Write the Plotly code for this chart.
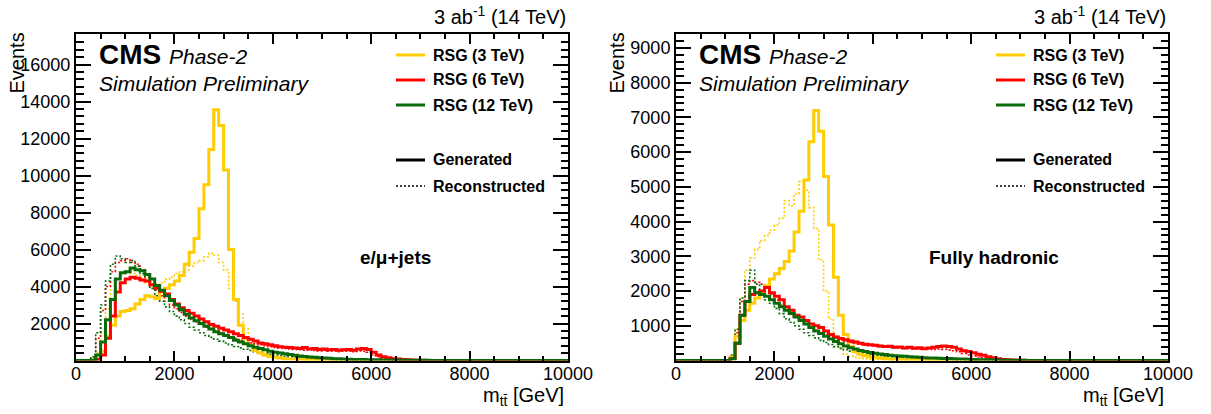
import plotly.graph_objects as go

# ---------------- data (100 GeV bins from 0 to 10000 GeV) ----------------
BIN_WIDTH = 100.0
N_BINS = 100
x_tick_vals = [0, 2000, 4000, 6000, 8000, 10000]
y_tick_vals_lep = [2000, 4000, 6000, 8000, 10000, 12000, 14000, 16000]
y_tick_vals_had = [1000, 2000, 3000, 4000, 5000, 6000, 7000, 8000, 9000]
series_names = ["RSG (3 TeV)", "RSG (6 TeV)", "RSG (12 TeV)"]

# e/mu+jets panel, first listed bin = 300 GeV
lep_start = 3
yellow_gen_lep = [0, 100, 500, 1300, 1900, 2400, 2650, 2700, 2800, 3050, 3300, 3500, 3450, 3350,
                  3700, 3900, 4100, 4300, 4600, 5200, 5850, 6600, 8200, 9500, 11400, 13550, 12700,
                  10300, 6000, 3300, 1900, 1200, 800, 550, 400, 300, 220, 170, 130, 100, 80, 65, 50,
                  40, 30, 25, 20, 15, 10, 10, 5, 5]
yellow_reco_lep = [50, 400, 1500, 2800, 3800, 4400, 4700, 4800, 4700, 4600, 4400, 4200, 4000, 4100,
                   4200, 4400, 4500, 4700, 4800, 4900, 5100, 5300, 5400, 5600, 5800, 5700, 5300,
                   4900, 3900, 3200, 2500, 1700, 1100, 700, 500, 370, 280, 210, 160, 120, 95, 75,
                   60, 45, 35, 25, 20, 15, 10, 8, 5]
red_gen_lep = [0, 50, 300, 1200, 2400, 3700, 4200, 4400, 4500, 4450, 4350, 4300, 4100, 3900, 3750,
               3600, 3300, 3050, 2850, 2700, 2550, 2400, 2250, 2100, 1950, 1850, 1750, 1650, 1550,
               1450, 1350, 1250, 1150, 1050, 950, 900, 850, 800, 750, 720, 700, 680, 650, 700, 620,
               650, 600, 620, 580, 600, 560, 580, 600, 560, 620, 650, 600, 450, 300, 200, 150, 100,
               80, 60, 40, 30, 20, 10]
red_reco_lep = [150, 1200, 2700, 4000, 4800, 5300, 5400, 5500, 5300, 5200, 4900, 4500, 4100, 3800,
                3500, 3200, 3000, 2800, 2600, 2400, 2250, 2100, 1950, 1800, 1700, 1600, 1500, 1400,
                1300, 1200, 1100, 1000, 950, 900, 850, 800, 750, 700, 680, 650, 620, 600, 580, 560,
                600, 550, 520, 560, 500, 520, 480, 500, 520, 480, 520, 500, 450, 300, 200, 130, 90,
                60, 40, 30, 20, 15, 10, 5]
green_gen_lep = [20, 300, 1000, 2200, 3300, 4400, 4750, 4800, 5000, 4900, 4850, 4650, 4400, 4050,
                 3800, 3500, 3250, 3000, 2750, 2500, 2300, 2150, 2000, 1850, 1700, 1550, 1450, 1350,
                 1250, 1100, 1000, 900, 800, 720, 650, 580, 500, 450, 400, 360, 320, 280, 250, 220,
                 190, 170, 150, 130, 115, 100, 90, 80, 70, 60, 55, 50, 45, 40, 35, 30, 28, 25, 22,
                 20, 18, 15, 12, 10, 8, 6, 5, 5, 4, 3, 3, 2, 2, 2]
green_reco_lep = [200, 1500, 3000, 4300, 5200, 5650, 5500, 5300, 5400, 5100, 4700, 4300, 3900, 3500,
                  3200, 2900, 2650, 2400, 2200, 2000, 1800, 1650, 1500, 1350, 1250, 1150, 1050, 950,
                  850, 760, 680, 610, 540, 480, 420, 370, 330, 290, 260, 230, 200, 180, 160, 140,
                  120, 105, 90, 80, 70, 60, 50, 45, 40, 35, 30, 25, 20, 15]

# fully hadronic panel, first listed bin = 1000 GeV
had_start = 10
yellow_gen_had = [0, 100, 700, 1150, 1450, 1650, 1800, 1950, 2150, 2350, 2500, 2650, 2850, 3150,
                  3700, 4300, 5200, 6300, 7200, 6600, 5300, 3900, 2400, 1300, 750, 400, 250, 180,
                  140, 110, 90, 70, 55, 45, 35, 30, 25, 20, 15, 12, 10, 8, 5]
yellow_reco_had = [0, 100, 900, 1800, 2600, 2950, 3200, 3450, 3600, 3750, 3900, 4100, 4600, 4450,
                   4800, 5150, 4900, 4400, 3800, 2900, 2000, 1200, 700, 350, 180, 120, 90, 70, 50,
                   40, 30, 25, 20, 15, 10, 8, 5]
red_gen_had = [0, 50, 500, 1300, 1700, 1900, 1950, 2000, 2100, 1950, 1850, 1750, 1550, 1450, 1300,
               1250, 1150, 1050, 1000, 950, 850, 750, 680, 630, 600, 560, 530, 500, 470, 450, 440,
               420, 400, 410, 380, 390, 360, 380, 350, 370, 340, 360, 380, 400, 420, 400, 380, 330,
               280, 260, 220, 180, 150, 110, 80, 50, 30, 20, 15, 10, 5]
red_reco_had = [0, 150, 800, 1700, 2200, 2300, 2250, 2200, 2100, 1900, 1750, 1600, 1450, 1350,
                1250, 1150, 1050, 950, 880, 800, 750, 700, 650, 600, 550, 520, 490, 470, 450, 430,
                420, 400, 390, 380, 370, 360, 350, 360, 340, 330, 340, 330, 320, 330, 320, 300, 280,
                250, 200, 160, 130, 100, 80, 60, 45, 30, 20, 15, 10, 5]
green_gen_had = [0, 50, 500, 1300, 1700, 2100, 1950, 1900, 1850, 1750, 1650, 1550, 1450, 1350,
                 1250, 1150, 1050, 950, 850, 780, 700, 620, 550, 480, 420, 370, 330, 290, 260, 230,
                 210, 190, 170, 150, 140, 130, 120, 110, 100, 90, 80, 75, 70, 65, 60, 55, 50, 45,
                 40, 35, 30, 25, 20, 18, 15, 12, 10, 8, 6, 5, 4]
green_reco_had = [0, 150, 900, 1800, 2300, 2600, 2200, 2000, 1750, 1650, 1500, 1350, 1200, 1100,
                  1000, 900, 800, 720, 650, 580, 520, 460, 400, 350, 310, 270, 240, 210, 190, 170,
                  150, 135, 120, 110, 100, 90, 80, 70, 60, 55, 50, 45, 40, 35, 30, 25, 20, 18, 15,
                  12, 10]

# ---------------- styling ----------------
W, H = 1211, 414
FONT = "Liberation Sans, Arial, Helvetica, sans-serif"
YELLOW = "#FFCC00"
RED = "#FF0000"
GREEN = "#0a6a0a"
colors = [YELLOW, RED, GREEN]


def px(x):
    return x / W


def py(y):
    return 1 - y / H


def full(values, start):
    arr = [0.0] * N_BINS
    for i, v in enumerate(values):
        arr[start + i] = v
    return arr


def step_xy(values):
    xs = [i * BIN_WIDTH for i in range(N_BINS)] + [N_BINS * BIN_WIDTH]
    ys = list(values) + [values[-1]]
    return xs, ys


fig = go.Figure()

panels = [
    (lep_start, [yellow_gen_lep, red_gen_lep, green_gen_lep],
     [yellow_reco_lep, red_reco_lep, green_reco_lep], "x", "y"),
    (had_start, [yellow_gen_had, red_gen_had, green_gen_had],
     [yellow_reco_had, red_reco_had, green_reco_had], "x2", "y2"),
]

for start, gens, recos, xa, ya in panels:
    for vals, col, name in zip(recos, colors, series_names):
        xs, ys = step_xy(full(vals, start))
        fig.add_trace(go.Scatter(x=xs, y=ys, mode="lines", line_shape="hv",
                                 line=dict(color=col, width=1.6, dash="2px,2px"),
                                 name=name + " reco", showlegend=False, xaxis=xa, yaxis=ya,
                                 hoverinfo="skip"))
    for vals, col, name in zip(gens, colors, series_names):
        xs, ys = step_xy(full(vals, start))
        fig.add_trace(go.Scatter(x=xs, y=ys, mode="lines", line_shape="hv",
                                 line=dict(color=col, width=3),
                                 name=name, showlegend=False, xaxis=xa, yaxis=ya,
                                 hoverinfo="skip"))

frames = [(76, 568), (676, 1168)]
y_top, y_bot = 34, 360.5

axis_common = dict(showline=True, linecolor="black", linewidth=2, mirror="allticks",
                   ticks="inside", tickcolor="black", tickwidth=1.5, showgrid=False,
                   zeroline=False, automargin=False,
                   tickfont=dict(family=FONT, size=18, color="black"))

xax = dict(axis_common, range=[0, 10000], tickmode="array", tickvals=x_tick_vals,
           ticktext=[str(v) for v in x_tick_vals], ticklabelstandoff=-4,
           ticklen=10, minor=dict(tickmode="linear", tick0=0, dtick=500, ticklen=5,
                                  tickwidth=1.5, tickcolor="black", ticks="inside"))
fig.update_layout(
    xaxis=dict(xax, domain=[px(frames[0][0]), px(frames[0][1])], anchor="y"),
    xaxis2=dict(xax, domain=[px(frames[1][0]), px(frames[1][1])], anchor="y2"),
    yaxis=dict(axis_common, domain=[py(y_bot), py(y_top)], range=[0, 17650], anchor="x",
               tickmode="array", tickvals=y_tick_vals_lep,
               ticktext=[str(v) for v in y_tick_vals_lep], ticklen=15,
               minor=dict(tickmode="linear", tick0=0, dtick=400, ticklen=7.5, tickwidth=1.5,
                          tickcolor="black", ticks="inside")),
    yaxis2=dict(axis_common, domain=[py(y_bot), py(y_top)], range=[0, 9400], anchor="x2",
                tickmode="array", tickvals=y_tick_vals_had,
                ticktext=[str(v) for v in y_tick_vals_had], ticklen=15,
                minor=dict(tickmode="linear", tick0=0, dtick=200, ticklen=7.5, tickwidth=1.5,
                           tickcolor="black", ticks="inside")),
    width=W, height=H, margin=dict(l=0, r=0, t=0, b=0),
    plot_bgcolor="white", paper_bgcolor="white", showlegend=False,
    font=dict(family=FONT, color="black"),
)

annotations = []
shapes = []
channel_labels = [("e/\u03bc+jets", 358), ("Fully hadronic", 927)]
for i, (x0, x1) in enumerate(frames):
    off = x0 - 76
    annotations += [
        dict(x=px(x1), y=py(16), text="3 ab<sup>-1</sup> (14 TeV)", xanchor="right",
             yanchor="middle", font=dict(size=20)),
        dict(x=px(x1 - 2), y=py(396), text="m<sub>tt\u0304</sub> [GeV]", xanchor="right",
             yanchor="middle", font=dict(size=20)),
        dict(x=px(16 + off), y=py(31), text="Events", textangle=-90, xanchor="center",
             yanchor="top", font=dict(size=20)),
        dict(x=px(97 + off), y=py(54), text="<b>CMS</b>", xanchor="left", yanchor="middle",
             font=dict(size=28)),
        dict(x=px(167 + off), y=py(56.5), text="<i>Phase-2</i>", xanchor="left",
             yanchor="middle", font=dict(size=21)),
        dict(x=px(97 + off), y=py(83.5), text="<i>Simulation Preliminary</i>", xanchor="left",
             yanchor="middle", font=dict(size=21)),
        dict(x=px(channel_labels[i][1]), y=py(257), text="<b>" + channel_labels[i][0] + "</b>",
             xanchor="left", yanchor="middle", font=dict(size=19)),
    ]
    leg_rows = [(55, YELLOW, "solid", 3, series_names[0]),
                (80, RED, "solid", 3, series_names[1]),
                (105, GREEN, "solid", 3, series_names[2]),
                (160, "black", "solid", 3, "Generated"),
                (186, "black", "2px,2px", 1.6, "Reconstructed")]
    for yy, col, dash, lw, label in leg_rows:
        shapes.append(dict(type="line", xref="paper", yref="paper", x0=px(396 + off),
                           x1=px(425 + off), y0=py(yy), y1=py(yy),
                           line=dict(color=col, width=lw, dash=dash)))
        annotations.append(dict(x=px(431 + off), y=py(yy), text="<b>" + label + "</b>",
                                xanchor="left", yanchor="middle", font=dict(size=16)))

for a in annotations:
    a.update(xref="paper", yref="paper", showarrow=False)
    a["font"].update(family=FONT, color="black")

fig.update_layout(annotations=annotations, shapes=shapes)
fig.write_html("out.html", config={"displayModeBar": False},
               post_script="document.body.style.margin='0px';")
